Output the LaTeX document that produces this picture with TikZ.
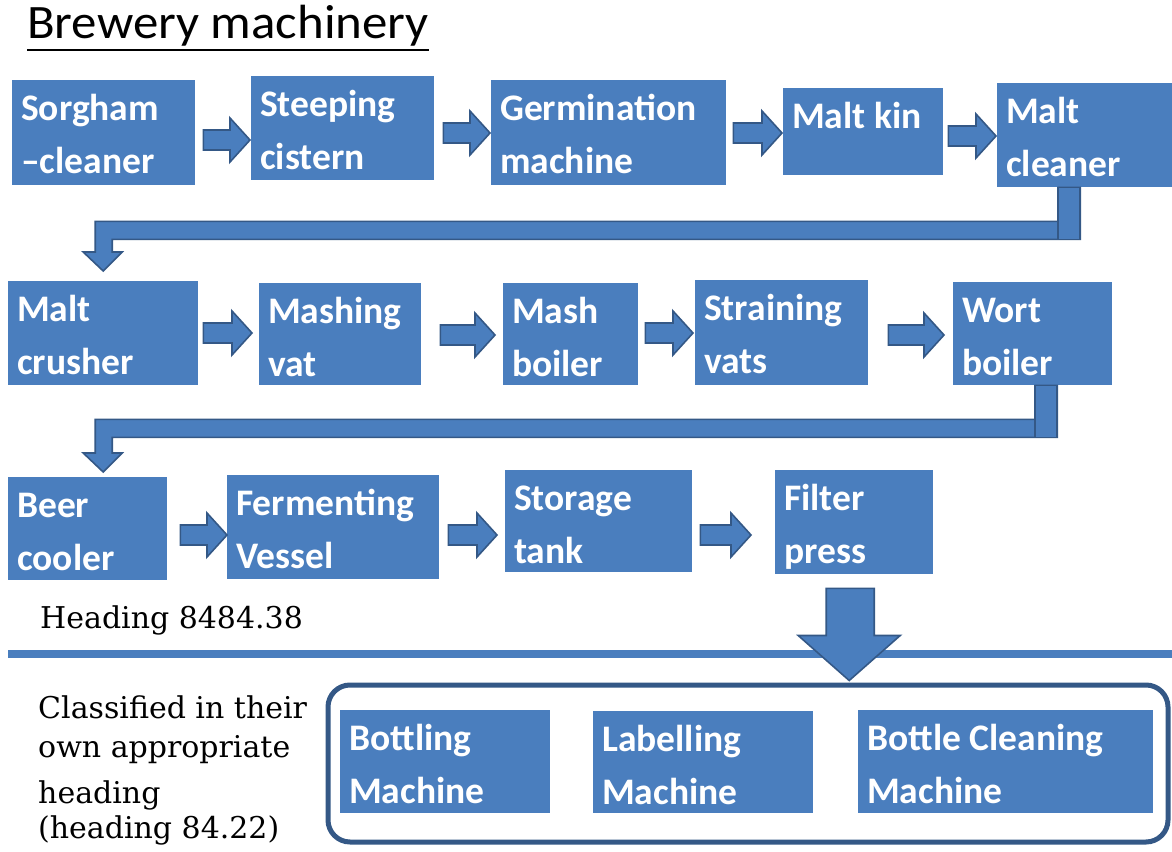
\documentclass[tikz,border=0pt]{standalone}
\usepackage{fontspec}
\newfontfamily\calibri{Carlito}
\newfontfamily\century{DejaVu Serif}
\usetikzlibrary{calc}
\definecolor{boxblue}{RGB}{74,126,190}
\definecolor{edgeblue}{RGB}{52,88,134}
% line strut: 40pt above and 12pt below the baseline
\newcommand\bs{\rule[-12pt]{0pt}{52pt}}
% top-aligned text block of fixed width and height
\newcommand\boxlines[3]{\parbox[c][#2][t]{#1}{\raggedright #3}}
% straight block arrow: from node #1 to node #2 at height #3, gaps #4 and #5
\newcommand\blockarrow[5]{%
  \path[barrow] let \p1=(#1.east), \p2=(#2.west), \p3=(0,#3) in
    (\x1+#4pt,\y3+10pt) -- (\x2-#5pt-20pt,\y3+10pt) -- (\x2-#5pt-20pt,\y3+22pt)
    -- (\x2-#5pt,\y3) -- (\x2-#5pt-20pt,\y3-22pt) -- (\x2-#5pt-20pt,\y3-10pt)
    -- (\x1+#4pt,\y3-10pt) -- cycle;}
% elbow block arrow: down from node #1, left, then down into node #2
% #3 shaft offset from #1.south, #4 tip offset from #2.north, #5 gap above #2
\newcommand\elbowarrow[5]{%
  \path[barrow] let \p1=($(#1.south)+(#3,0)$), \p2=($(#2.north)+(#4,0)$) in
    (\x1,\y1) -- (\x1+22pt,\y1) -- (\x1+22pt,\y1-52pt) -- (\x2+9pt,\y1-52pt)
    -- (\x2+9pt,\y2+#5pt+19pt) -- (\x2+19pt,\y2+#5pt+19pt) -- (\x2,\y2+#5pt)
    -- (\x2-20pt,\y2+#5pt+19pt) -- (\x2-8pt,\y2+#5pt+19pt) -- (\x2-8pt,\y1-34pt)
    -- (\x1,\y1-34pt) -- cycle;
  \path[barrow] let \p1=($(#1.south)+(#3,0)$) in
    (\x1,\y1) rectangle (\x1+22pt,\y1-52pt);}
\begin{document}
\begin{tikzpicture}[x=1pt,y=-1pt,
  mbox/.style={fill=boxblue, text=white, anchor=north west,
    font=\calibri\bfseries\fontsize{37.5}{53}\selectfont,
    inner xsep=9pt, inner ysep=0pt},
  barrow/.style={fill=boxblue, draw=edgeblue, line width=1.6pt, line join=miter},
  serif/.style={font=\century\fontsize{30}{39}\selectfont, inner sep=0pt, anchor=base west},
  sepline/.style={draw=boxblue, line width=8pt},
  group/.style={draw=edgeblue, line width=5pt, rounded corners=22pt, fill=white,
    anchor=north west, inner sep=0pt}]
\useasboundingbox[fill=white] (0,0) rectangle (1172,851);

% title
\node[font=\calibri\fontsize{48}{52}\selectfont, anchor=base west, inner sep=0pt]
  (title) at (27,39) {\scalebox{1.06}[1]{Brewery machinery}};
\draw[line width=2.4pt] ($(title.base west)+(0,11)$) -- ($(title.base east)+(0,11)$);

% first row
\node[mbox] (sc)  at (12,80)  {\boxlines{165pt}{105pt}{\bs Sorgham\\\bs –cleaner}};
\node[mbox] (st)  at (251,76) {\boxlines{165pt}{104pt}{\bs Steeping\\\bs cistern}};
\node[mbox] (ge)  at (491,80) {\boxlines{217pt}{105pt}{\bs Germination\\\bs machine}};
\node[mbox] (mk)  at (783,88) {\boxlines{142pt}{87pt}{\bs Malt kin}};
\node[mbox] (mcl) at (997,83) {\boxlines{157pt}{104pt}{\bs Malt\\\bs cleaner}};

% second row
\node[mbox] (mcr) at (8,281)   {\boxlines{172pt}{104pt}{\bs Malt\\\bs crusher}};
\node[mbox] (mv)  at (259,283) {\boxlines{144pt}{102pt}{\bs Mashing\\\bs vat}};
\node[mbox] (mb)  at (503,283) {\boxlines{117pt}{102pt}{\bs Mash\\\bs boiler}};
\node[mbox] (sv)  at (695,280) {\boxlines{155pt}{105pt}{\bs Straining\\\bs vats}};
\node[mbox] (wb)  at (953,282) {\boxlines{141pt}{103pt}{\bs Wort\\\bs boiler}};

% third row
\node[mbox] (bc)  at (8,477)   {\boxlines{141pt}{103pt}{\bs Beer\\\bs cooler}};
\node[mbox] (fv)  at (227,475) {\boxlines{194pt}{104pt}{\bs Fermenting\\\bs Vessel}};
\node[mbox] (stk) at (505,470) {\boxlines{169pt}{102pt}{\bs Storage\\\bs tank}};
\node[mbox] (fp)  at (775,470) {\boxlines{140pt}{104pt}{\bs Filter\\\bs press}};

% straight arrows
\blockarrow{sc}{st}{140}{8}{1}
\blockarrow{st}{ge}{133}{9}{1}
\blockarrow{ge}{mk}{133}{7}{1}
\blockarrow{mk}{mcl}{136}{5}{1}
\blockarrow{mcr}{mv}{333}{5}{7}
\blockarrow{mv}{mb}{335}{19}{8}
\blockarrow{mb}{sv}{333}{7}{2}
\blockarrow{sv}{wb}{335}{20}{9}
\blockarrow{bc}{fv}{535}{13}{0}
\blockarrow{fv}{stk}{535}{9}{8}
\blockarrow{stk}{fp}{535}{8}{24}

% row changes
\elbowarrow{mcl}{mcr}{-26.5}{0}{10}
\elbowarrow{wb}{bc}{2.5}{15.5}{5}

% labels on the left
\node[serif] (hd) at (40,628) {Heading 8484.38};

% separator
\draw[sepline] (8,654) -- (1172,654);

% machines classified elsewhere
\node[group, minimum width=840pt, minimum height=157pt] (grp) at (325.5,682.5) {};
\node[mbox] (bm)  at (340,710) {\boxlines{192pt}{103pt}{\bs Bottling\\\bs Machine}};
\node[mbox] (lm)  at (593,711) {\boxlines{202pt}{102pt}{\bs Labelling\\\bs Machine}};
\node[mbox] (bcm) at (858,710) {\boxlines{277pt}{103pt}{\bs Bottle Cleaning\\\bs Machine}};

\node[serif] (cls) at (38,718) {\parbox[t]{290pt}{\raggedright
  Classified in their\\ own appropriate\\[7pt] heading\\[-4pt] (heading 84.22)}};

% big arrow from the filter press into the group
\path[barrow] let \p1=(fp.south), \p2=(grp.north) in
  (\x1-28pt,\y1-14pt) -- (\x1+20pt,\y1-14pt) -- (\x1+20pt,\y2+47pt)
  -- (\x1+46pt,\y2+47pt) -- (\x1-5pt,\y2+2pt) -- (\x1-56pt,\y2+47pt)
  -- (\x1-28pt,\y2+47pt) -- cycle;
\end{tikzpicture}
\end{document}
